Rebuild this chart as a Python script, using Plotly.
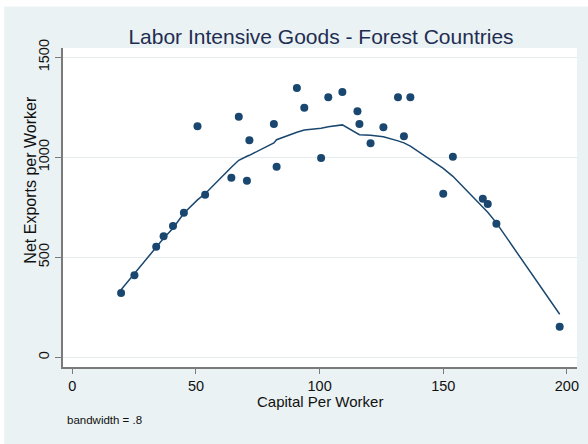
import plotly.graph_objects as go

# Capital per worker and net exports per worker, one entry per country
capital = [19.7, 25.1, 33.9, 36.9, 40.7, 45.1, 50.6, 53.7, 64.3, 67.3, 70.6,
           71.6, 81.5, 82.6, 90.8, 93.8, 100.6, 103.5, 109.2, 115.3, 116.1,
           120.6, 125.8, 131.7, 134.1, 136.7, 150.0, 153.9, 166.0, 168.0,
           171.5, 197.1]
net_exports = [322, 410, 553, 605, 656, 723, 1155, 813, 898, 1203, 883,
               1085, 1166, 953, 1346, 1248, 997, 1300, 1326, 1230, 1166,
               1070, 1150, 1300, 1105, 1300, 818, 1003, 793, 767,
               668, 153]
# Lowess fitted values (bandwidth = .8) at each capital value
lowess_fit = [338, 420, 548, 595, 645, 720, 787, 818, 950, 985, 1005,
              1010, 1072, 1088, 1125, 1136, 1145, 1153, 1162, 1115, 1113,
              1110, 1103, 1082, 1072, 1056, 945, 905, 755, 725,
              672, 215]

x_ticks = [0, 50, 100, 150, 200]
y_ticks = [0, 500, 1000, 1500]

NAVY = "#1a476f"
OUTER = "#eaf2f3"
GRID = "#e4ecee"
AXIS = "#7a7a7a"
FONT = "Liberation Sans, Arial, sans-serif"

W, H = 588, 444
ML, MR, MT, MB = 63, 9, 48, 77
PW, PH = W - ML - MR, H - MT - MB


def px_x(p):
    return (p - ML) / PW


def px_y(p):
    return (H - MB - p) / PH


fig = go.Figure()
fig.add_trace(go.Scatter(
    x=capital, y=net_exports, mode="markers",
    marker=dict(color=NAVY, size=8, line=dict(width=0)),
    showlegend=False, cliponaxis=False,
))
fig.add_trace(go.Scatter(
    x=capital, y=lowess_fit, mode="lines",
    line=dict(color=NAVY, width=1.5),
    showlegend=False,
))

fig.update_layout(
    width=W, height=H, autosize=False,
    margin=dict(l=ML, r=MR, t=MT, b=MB, pad=0),
    paper_bgcolor=OUTER, plot_bgcolor="white",
    font=dict(family=FONT, color="#111111", size=14.5),
    title=dict(
        text="Labor Intensive Goods - Forest Countries",
        x=(ML + PW / 2) / W, xanchor="center",
        y=1 - 37 / H, yanchor="middle",
        font=dict(size=21, color="#1f2d52", family=FONT),
    ),
    xaxis=dict(
        range=[-3.79, 204.1], tickmode="array", tickvals=x_ticks,
        ticks="outside", ticklen=5, tickwidth=1, tickcolor=AXIS,
        showline=True, linecolor=AXIS, linewidth=1.5,
        showgrid=False, zeroline=False,
        tickfont=dict(size=14.5, color="#111111"),
    ),
    yaxis=dict(
        range=[-48.5, 1546.5], tickmode="array", tickvals=y_ticks,
        ticks="outside", ticklen=6, tickwidth=1, tickcolor=AXIS,
        showline=True, linecolor=AXIS, linewidth=1.5,
        showgrid=True, gridcolor=GRID, gridwidth=1.2, zeroline=False,
        tickangle=-90,
        tickfont=dict(size=14.5, color="#111111"),
    ),
    shapes=[
        # thin white border along the top and left edges of the canvas
        dict(type="rect", xref="paper", yref="paper", layer="below",
             x0=px_x(-5), x1=px_x(W + 5), y0=px_y(6.5), y1=px_y(-5),
             fillcolor="white", line=dict(width=0)),
        dict(type="rect", xref="paper", yref="paper", layer="below",
             x0=px_x(-5), x1=px_x(4), y0=px_y(H + 5), y1=px_y(-5),
             fillcolor="white", line=dict(width=0)),
    ],
    annotations=[
        dict(text="Capital Per Worker", xref="paper", yref="paper",
             x=0.5, y=px_y(401.5), xanchor="center", yanchor="middle",
             showarrow=False, font=dict(size=15, color="#111111")),
        dict(text="Net Exports per Worker", xref="paper", yref="paper",
             x=px_x(29.5), y=px_y(180), xanchor="center", yanchor="middle",
             textangle=-90, showarrow=False,
             font=dict(size=16, color="#111111")),
        dict(text="bandwidth = .8", xref="paper", yref="paper",
             x=px_x(65), y=px_y(419.5), xanchor="left", yanchor="middle",
             showarrow=False, font=dict(size=11.5, color="#111111")),
    ],
)

fig.write_html("out.html")
